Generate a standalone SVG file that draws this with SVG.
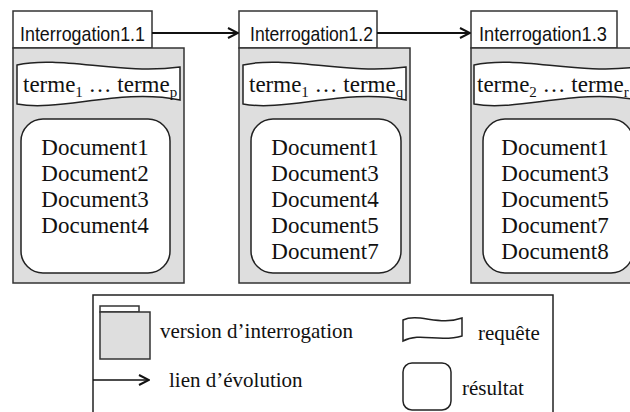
<svg xmlns="http://www.w3.org/2000/svg" width="630" height="412" viewBox="0 0 630 412">
<defs>
<style>
.tab{fill:#ffffff;stroke:#333;stroke-width:1.5}
.body{fill:#dedede;stroke:#333;stroke-width:1.5}
.wave{fill:#ffffff;stroke:#222;stroke-width:1.5}
.res{fill:#ffffff;stroke:#222;stroke-width:1.5}
.hdr{font-family:"Liberation Sans",Arial,sans-serif;font-size:21px;fill:#111}
.doc{font-family:"Liberation Serif","Times New Roman",serif;font-size:23px;fill:#111}
.lg{font-family:"Liberation Serif","Times New Roman",serif;font-size:21px;fill:#111}
.sub{font-size:15px}
.conn{stroke:#111;stroke-width:2;fill:none}
</style>
<marker id="arr" viewBox="0 0 12 12" refX="11" refY="6" markerWidth="12" markerHeight="12" markerUnits="userSpaceOnUse" orient="auto">
<path d="M1,1 L11,6 L1,11" fill="none" stroke="#111" stroke-width="2"/>
</marker>
</defs>

<g id="node1">
<rect class="tab" x="13" y="11" width="139" height="37"/>
<text class="hdr" x="20" y="41" textLength="125" lengthAdjust="spacingAndGlyphs">Interrogation1.1</text>
<rect class="body" x="13" y="48" width="171" height="235"/>
<path class="wave" d="M17,65 C60,55 120,75 180,67 L180,100 C120,88 60,112 17,104 Z"/>
<text class="doc" x="23" y="92">terme<tspan class="sub" dy="5">1</tspan><tspan dy="-5"> … terme</tspan><tspan class="sub" dy="5">p</tspan></text>
<rect class="res" x="21" y="119" width="149" height="154" rx="22"/>
<text class="doc" text-anchor="middle" x="95" y="155">Document1</text>
<text class="doc" text-anchor="middle" x="95" y="181">Document2</text>
<text class="doc" text-anchor="middle" x="95" y="207">Document3</text>
<text class="doc" text-anchor="middle" x="95" y="233">Document4</text>
</g>

<g id="node2">
<rect class="tab" x="239" y="11" width="138" height="37"/>
<text class="hdr" x="250" y="41" textLength="123" lengthAdjust="spacingAndGlyphs">Interrogation1.2</text>
<rect class="body" x="239" y="48" width="171" height="235"/>
<path class="wave" d="M243,65 C286,55 346,75 406,67 L406,100 C346,88 286,112 243,104 Z"/>
<text class="doc" x="249" y="92">terme<tspan class="sub" dy="5">1</tspan><tspan dy="-5"> … terme</tspan><tspan class="sub" dy="5">q</tspan></text>
<rect class="res" x="251" y="119" width="150" height="154" rx="22"/>
<text class="doc" text-anchor="middle" x="325" y="155">Document1</text>
<text class="doc" text-anchor="middle" x="325" y="181">Document3</text>
<text class="doc" text-anchor="middle" x="325" y="207">Document4</text>
<text class="doc" text-anchor="middle" x="325" y="233">Document5</text>
<text class="doc" text-anchor="middle" x="325" y="259">Document7</text>
</g>

<g id="node3">
<rect class="tab" x="471" y="11" width="146" height="37"/>
<text class="hdr" x="479" y="41" textLength="128" lengthAdjust="spacingAndGlyphs">Interrogation1.3</text>
<rect class="body" x="471" y="48" width="171" height="235"/>
<path class="wave" d="M474,65 C517,55 577,75 637,67 L637,100 C577,88 517,112 474,104 Z"/>
<text class="doc" x="477" y="92">terme<tspan class="sub" dy="5">2</tspan><tspan dy="-5"> … terme</tspan><tspan class="sub" dy="5">r</tspan></text>
<rect class="res" x="483" y="119" width="150" height="154" rx="22"/>
<text class="doc" text-anchor="middle" x="555" y="155">Document1</text>
<text class="doc" text-anchor="middle" x="555" y="181">Document3</text>
<text class="doc" text-anchor="middle" x="555" y="207">Document5</text>
<text class="doc" text-anchor="middle" x="555" y="233">Document7</text>
<text class="doc" text-anchor="middle" x="555" y="259">Document8</text>
</g>

<g id="connectors">
<line class="conn" x1="152" y1="33" x2="238" y2="33" marker-end="url(#arr)"/>
<line class="conn" x1="377" y1="33" x2="470" y2="33" marker-end="url(#arr)"/>
</g>

<g id="legend">
<rect x="93" y="295" width="460" height="130" fill="#ffffff" stroke="#222" stroke-width="1.5"/>
<rect class="tab" x="100" y="306" width="39" height="6"/>
<rect class="body" x="100" y="312" width="50" height="47"/>
<text class="lg" x="160" y="338">version d’interrogation</text>
<line x1="93" y1="380" x2="149" y2="380" stroke="#111" stroke-width="1.3" marker-end="url(#arr)"/>
<text class="lg" x="169" y="387">lien d’évolution</text>
<path class="wave" d="M403,320 C418,313 440,326 462,318 L462,336 C440,343 420,332 403,341 Z"/>
<text class="lg" x="478" y="340">requête</text>
<rect class="res" x="403" y="363" width="48" height="47" rx="9"/>
<text class="lg" x="462" y="395">résultat</text>
</g>
</svg>
